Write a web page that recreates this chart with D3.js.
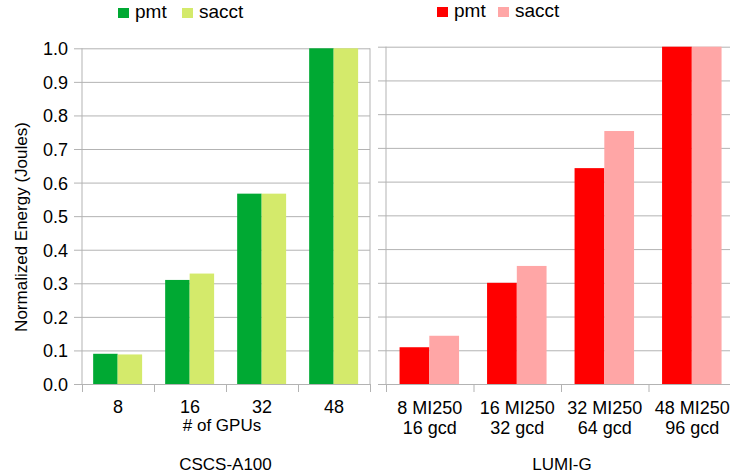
<!DOCTYPE html>
<meta charset="utf-8">
<script src="https://d3js.org/d3.v7.min.js"></script>
<style>
  body { margin: 0; background: #fff; }
  text { font-family: "Liberation Sans", Arial, sans-serif; fill: #000; }
</style>
<div id="my_dataviz"></div>
<script>
// data
const series = ["pmt", "sacct"];
const yTicks = [0, 0.1, 0.2, 0.3, 0.4, 0.5, 0.6, 0.7, 0.8, 0.9, 1.0];

const a100Cats = ["8", "16", "32", "48"];
const a100Pmt = [0.090, 0.310, 0.567, 1.0];
const a100Sacct = [0.088, 0.329, 0.567, 1.0];

const lumiCats = ["8 MI250|16 gcd", "16 MI250|32 gcd", "32 MI250|64 gcd", "48 MI250|96 gcd"];
const lumiPmt = [0.109, 0.300, 0.640, 1.0];
const lumiSacct = [0.143, 0.350, 0.750, 1.0];

const grid = "#b3b3b3";

const svg = d3.select("#my_dataviz")
  .append("svg")
    .attr("width", 730)
    .attr("height", 473);

// y axis title
svg.append("text")
  .attr("transform", "translate(26.5, 227) rotate(-90)")
  .attr("text-anchor", "middle")
  .style("font-size", "17px")
  .text("Normalized Energy (Joules)");

function drawPanel(p) {
  const w = p.right - p.left;
  const g = svg.append("g").attr("transform", `translate(${p.left}, 0)`);

  const y = d3.scaleLinear().domain([0, 1]).range([p.bottom, p.top]);
  const x0 = d3.scaleBand().domain(p.cats).range([0, w]);
  const bw = x0.bandwidth();
  const x1 = d3.scaleBand().domain(series).range([bw * 0.155, bw * 0.835]);
  const edges = d3.scaleLinear().domain([0, p.cats.length]).range([0, w]);

  // gridlines with the small left ticks
  const ya = g.append("g")
    .call(d3.axisLeft(y).tickValues(yTicks).tickSize(8).tickFormat(d3.format(".1f")));
  ya.select(".domain").remove();
  ya.selectAll(".tick line").attr("x1", w).attr("stroke", grid);
  if (p.yLabels) {
    ya.selectAll(".tick text")
      .attr("x", -14)
      .attr("dy", "0.36em")
      .style("font-size", "18px")
      .attr("font-family", null);
  } else {
    ya.selectAll(".tick text").remove();
  }

  // frame
  g.append("line").attr("x1", 0).attr("x2", 0).attr("y1", p.top).attr("y2", p.bottom).attr("stroke", grid);
  g.append("line").attr("x1", w).attr("x2", w).attr("y1", p.top).attr("y2", p.bottom).attr("stroke", grid);

  // category boundary ticks
  const xa = g.append("g")
    .attr("transform", `translate(0, ${p.bottom})`)
    .call(d3.axisBottom(edges).tickValues(d3.range(p.cats.length + 1)).tickSize(8).tickSizeOuter(0).tickFormat(""));
  xa.selectAll("path, line").attr("stroke", grid);

  // bars
  const rows = p.cats.map((c, i) => ({ cat: c, pmt: p.pmt[i], sacct: p.sacct[i] }));
  g.append("g").selectAll("g")
    .data(rows)
    .join("g")
      .attr("transform", d => `translate(${x0(d.cat)}, 0)`)
    .selectAll("rect")
    .data(d => series.map(s => ({ key: s, value: d[s] })))
    .join("rect")
      .attr("x", d => x1(d.key))
      .attr("y", d => y(d.value))
      .attr("width", x1.bandwidth())
      .attr("height", d => y(0) - y(d.value))
      .attr("fill", (d, i) => p.colors[i]);

  // category labels
  const xl = g.append("g")
    .attr("transform", `translate(0, ${p.bottom})`)
    .call(d3.axisBottom(x0).tickSize(0).tickFormat(""));
  xl.select(".domain").remove();
  xl.selectAll(".tick text")
    .attr("y", 0).attr("dy", null)
    .attr("font-family", null)
    .style("font-size", "18px")
    .each(function(d) {
      const parts = d.split("|");
      d3.select(this).selectAll("tspan")
        .data(parts)
        .join("tspan")
          .attr("x", 0)
          .attr("y", (t, i) => p.labelY + i * 20)
          .text(t => t);
    });

  if (p.xTitle) {
    g.append("text")
      .attr("x", w / 2 - 4)
      .attr("y", 431)
      .attr("text-anchor", "middle")
      .style("font-size", "17px")
      .text(p.xTitle);
  }

  g.append("text")
    .attr("x", p.titleX - p.left)
    .attr("y", 470)
    .attr("text-anchor", "middle")
    .style("font-size", "17px")
    .text(p.title);

  // legend
  const lg = svg.append("g").selectAll("g")
    .data(series)
    .join("g")
      .attr("transform", (d, i) => `translate(${p.legend[i]}, ${p.legendY})`);
  lg.append("rect")
    .attr("x", 0).attr("y", -10)
    .attr("width", 11).attr("height", 10)
    .attr("fill", (d, i) => p.colors[i]);
  lg.append("text")
    .attr("x", 17)
    .attr("y", 0)
    .style("font-size", "19px")
    .text(d => d);
}

drawPanel({
  cats: a100Cats, pmt: a100Pmt, sacct: a100Sacct,
  left: 82, right: 370, top: 48.3, bottom: 384,
  yLabels: true, labelY: 28.5,
  colors: ["#00a933", "#d4ea6b"],
  xTitle: "# of GPUs", title: "CSCS-A100", titleX: 225.5,
  legend: [118, 182], legendY: 18
});

drawPanel({
  cats: lumiCats, pmt: lumiPmt, sacct: lumiSacct,
  left: 386, right: 736, top: 46.7, bottom: 384,
  yLabels: false, labelY: 30,
  colors: ["#ff0000", "#ffa6a6"],
  title: "LUMI-G", titleX: 562,
  legend: [437, 498], legendY: 17
});
</script>
